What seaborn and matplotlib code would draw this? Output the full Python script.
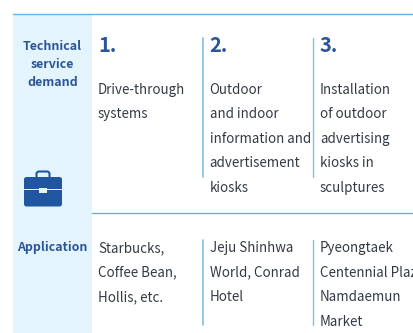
import matplotlib
matplotlib.use("Agg")
import matplotlib.pyplot as plt
from matplotlib.patches import FancyBboxPatch, Rectangle
import seaborn as sns

rowHeaders = ["Technical\nservice\ndemand", "Application"]
numbers = ["1.", "2.", "3."]
demandText = [
    ["Drive-through", "systems"],
    ["Outdoor", "and indoor", "information and", "advertisement", "kiosks"],
    ["Installation", "of outdoor", "advertising", "kiosks in", "sculptures"],
]
applicationText = [
    ["Starbucks,", "Coffee Bean,", "Hollis, etc."],
    ["Jeju Shinhwa", "World, Conrad", "Hotel"],
    ["Pyeongtaek", "Centennial Plaza", "Namdaemun", "Market"],
]

NAVY = "#2a5596"
ICON = "#1f569f"
TEXT = "#333a45"
PALE = "#e3f4fd"
RULE = "#6aaede"
DIVIDER = "#84bde3"


def main():
    sns.set_theme(style="white")
    plt.rcParams["font.family"] = ["Noto Sans CJK KR", "DejaVu Sans"]

    fig = plt.figure(figsize=(4.13, 3.33), dpi=100)
    ax = fig.add_axes([0, 0, 1, 1])
    ax.set_xlim(0, 413)
    ax.set_ylim(333, 0)
    ax.axis("off")

    # pale header column and rules
    ax.add_patch(Rectangle((13, 14), 79, 319, color=PALE, lw=0))
    ax.plot([13, 413], [13.5, 13.5], color=RULE, lw=1)
    ax.plot([92, 413], [212.5, 212.5], color=RULE, lw=1)

    ax.text(52.5, 64.5, rowHeaders[0], ha="center", va="center", fontsize=8.9,
            fontweight="bold", color=NAVY, linespacing=1.55)
    ax.text(52.5, 247.5, rowHeaders[1], ha="center", va="center", fontsize=8.9,
            fontweight="bold", color=NAVY)

    columns = [98, 209.5, 320]
    for x, number, demand, application in zip(columns, numbers, demandText, applicationText):
        ax.text(x, 52.5, number, fontsize=14.5, fontweight="bold", color=NAVY, va="baseline")
        for i, line in enumerate(demand):
            ax.text(x, 94 + i * 24.4, line, fontsize=9.6, color=TEXT, va="baseline")
        for i, line in enumerate(application):
            ax.text(x, 252 + i * 24.6, line, fontsize=9.6, color=TEXT, va="baseline")

    # column dividers
    for x, width in [(203, 1.2), (313, 1)]:
        ax.plot([x, x], [38, 177], color=DIVIDER, lw=width)
        ax.plot([x, x], [240, 325], color=DIVIDER, lw=width)

    drawBriefcase(ax)
    fig.savefig("out.png", dpi=100)
    plt.close(fig)


def drawBriefcase(ax):
    ax.add_patch(FancyBboxPatch((24, 177), 38, 29.5, boxstyle="round,pad=0,rounding_size=2.5",
                                fc=ICON, ec="none"))
    ax.add_patch(FancyBboxPatch((36.5, 171.5), 13, 8, boxstyle="round,pad=0,rounding_size=2.5",
                                fc="none", ec=ICON, lw=1.5))
    ax.add_patch(Rectangle((23, 188.5), 40, 1.2, fc=PALE, ec="none"))
    ax.add_patch(Rectangle((39, 188), 8, 4.5, fc=PALE, ec="none"))


if __name__ == "__main__":
    main()
